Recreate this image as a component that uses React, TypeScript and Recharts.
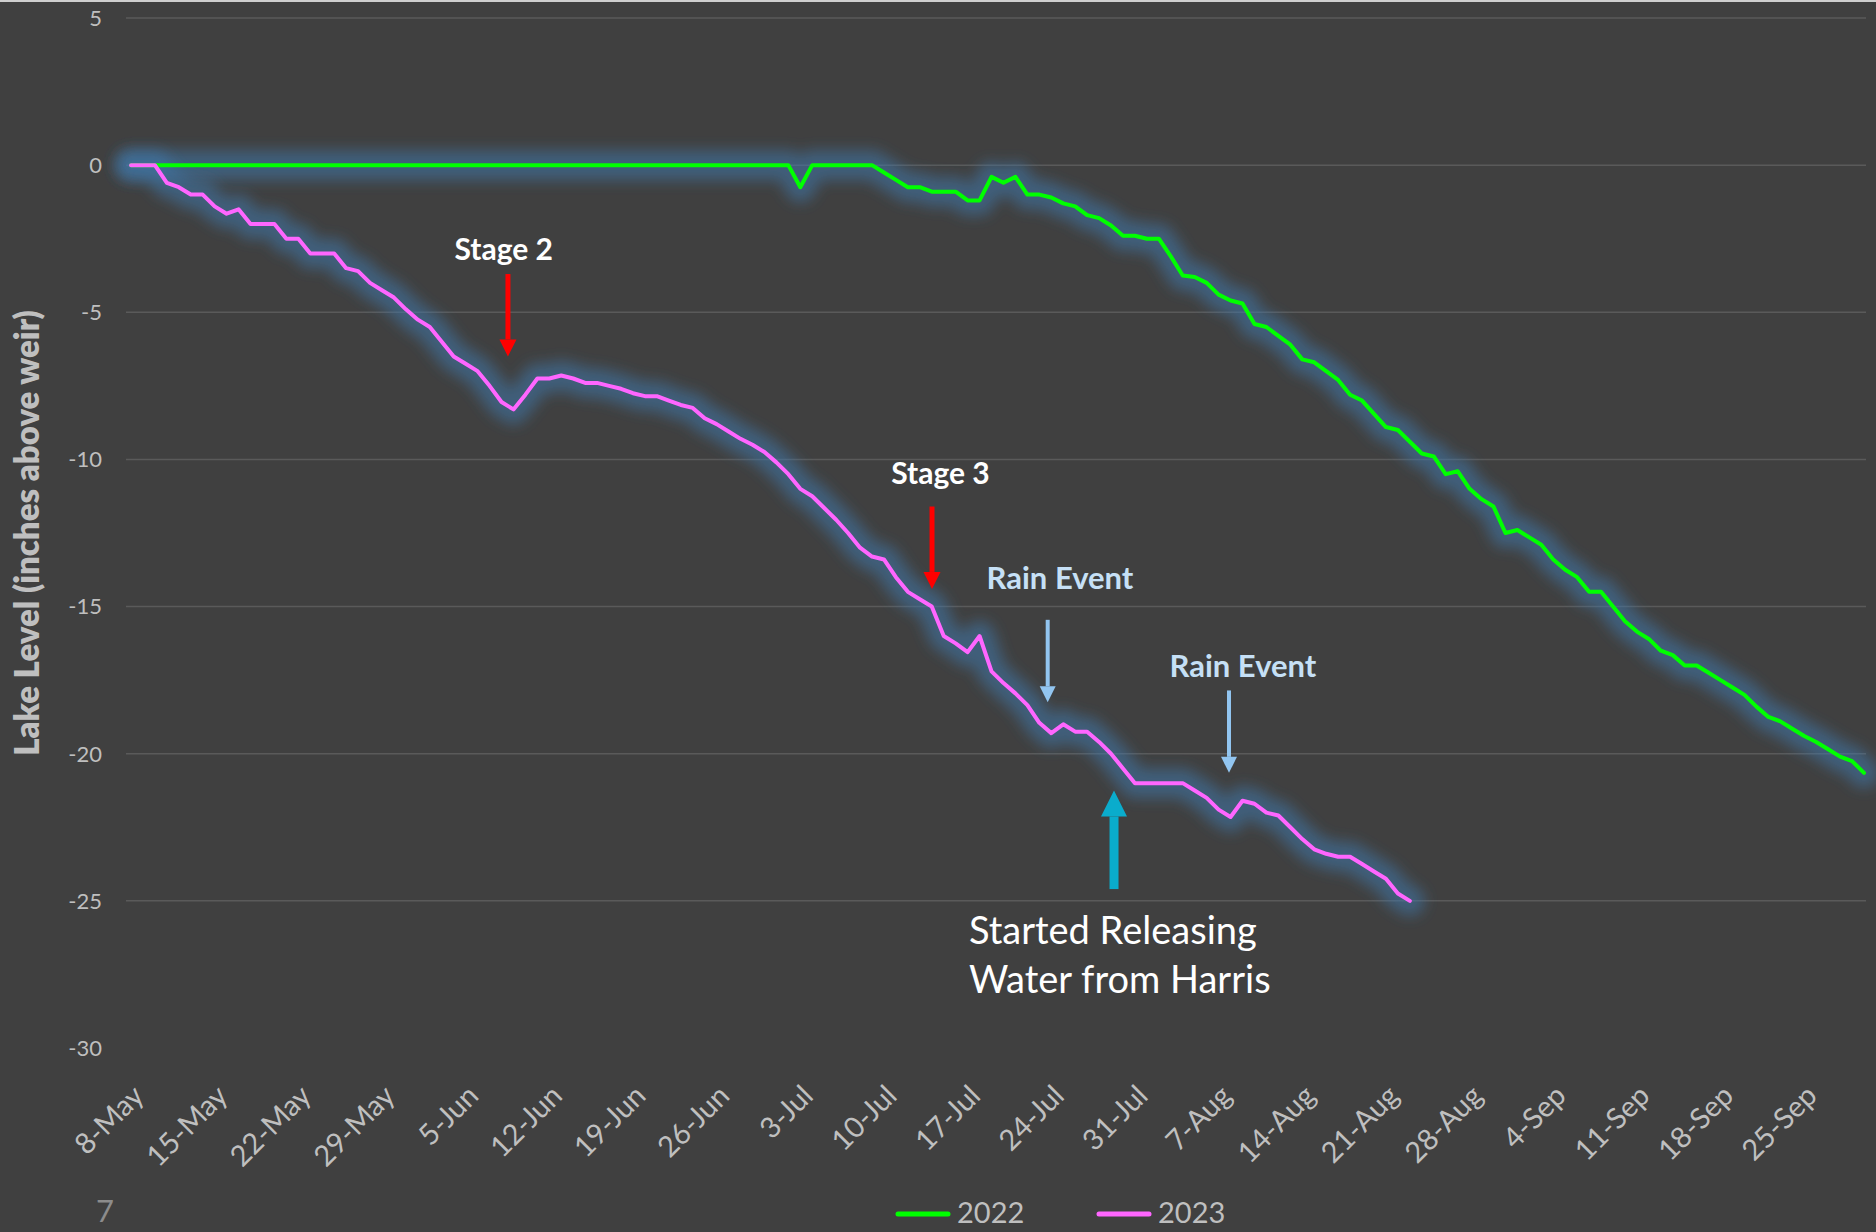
import React from "react";
import {
  LineChart,
  Line,
  XAxis,
  YAxis,
  CartesianGrid,
  ReferenceLine,
  ReferenceDot,
} from "recharts";

// daily lake level, inches above weir, starting 8-May
const level2022 = [
  0, 0, 0, 0, 0, 0, 0, 0, 0, 0,
  0, 0, 0, 0, 0, 0, 0, 0, 0, 0,
  0, 0, 0, 0, 0, 0, 0, 0, 0, 0,
  0, 0, 0, 0, 0, 0, 0, 0, 0, 0,
  0, 0, 0, 0, 0, 0, 0, 0, 0, 0,
  0, 0, 0, 0, 0, 0, -0.75, 0, 0, 0,
  0, 0, 0, -0.25, -0.5, -0.75, -0.75, -0.9, -0.9, -0.9,
  -1.2, -1.2, -0.4, -0.6, -0.4, -1.0, -1.0, -1.1, -1.3, -1.4,
  -1.7, -1.8, -2.05, -2.4, -2.4, -2.5, -2.5, -3.1, -3.75, -3.8,
  -4.0, -4.4, -4.6, -4.7, -5.4, -5.5, -5.8, -6.1, -6.6, -6.7,
  -7.0, -7.3, -7.8, -8.0, -8.45, -8.9, -9.0, -9.4, -9.8, -9.9,
  -10.5, -10.4, -11.0, -11.35, -11.6, -12.5, -12.4, -12.65, -12.9, -13.4,
  -13.75, -14.0, -14.5, -14.5, -15.0, -15.5, -15.85, -16.1, -16.5, -16.65,
  -17.0, -17.0, -17.25, -17.5, -17.75, -18.0, -18.4, -18.75, -18.9, -19.15,
  -19.4, -19.6, -19.85, -20.1, -20.25, -20.65,
];

const level2023 = [
  0, 0, 0, -0.6, -0.75, -1.0, -1.0, -1.4, -1.65, -1.5,
  -2.0, -2.0, -2.0, -2.5, -2.5, -3.0, -3.0, -3.0, -3.5, -3.6,
  -4.0, -4.25, -4.5, -4.9, -5.25, -5.5, -6.0, -6.5, -6.75, -7.0,
  -7.5, -8.05, -8.3, -7.8, -7.25, -7.25, -7.15, -7.25, -7.4, -7.4,
  -7.5, -7.6, -7.75, -7.85, -7.85, -8.0, -8.15, -8.25, -8.6, -8.8,
  -9.05, -9.3, -9.5, -9.75, -10.1, -10.5, -11.0, -11.25, -11.65, -12.05,
  -12.5, -13.0, -13.3, -13.4, -14.0, -14.5, -14.75, -15.0, -16.0, -16.25,
  -16.55, -16.0, -17.2, -17.6, -17.95, -18.35, -18.95, -19.3, -19.0, -19.25,
  -19.25, -19.6, -20.0, -20.5, -21.0, -21.0, -21.0, -21.0, -21.0, -21.25,
  -21.5, -21.9, -22.15, -21.6, -21.7, -22.0, -22.1, -22.5, -22.9, -23.25,
  -23.4, -23.5, -23.5, -23.75, -24.0, -24.25, -24.75, -25.0,
];

const MONTHS = ["Jan", "Feb", "Mar", "Apr", "May", "Jun", "Jul", "Aug", "Sep", "Oct", "Nov", "Dec"];
const MONTH_DAYS = [31, 28, 31, 30, 31, 30, 31, 31, 30, 31, 30, 31];

// "8-May", "9-May", ... one label per day
function buildDates(count: number) {
  const out: string[] = [];
  let m = 4;
  let d = 8;
  for (let i = 0; i < count; i++) {
    out.push(`${d}-${MONTHS[m]}`);
    d++;
    if (d > MONTH_DAYS[m]) {
      d = 1;
      m++;
    }
  }
  return out;
}

const dates = buildDates(level2022.length);
const xTicks = [0, 7, 14, 21, 28, 35, 42, 49, 56, 63, 70, 77, 84, 91, 98, 105, 112, 119, 126, 133, 140];
const yTicks = [5, 0, -5, -10, -15, -20, -25, -30];
const gridValues = [5, 0, -5, -10, -15, -20, -25];

const series = [
  { key: "y2022", name: "2022", color: "#00ff00" },
  { key: "y2023", name: "2023", color: "#ff66ff" },
];

// annotation arrows, in day index / inches
const arrows = [
  { day: 31.54, from: -3.7, to: -6.5, color: "#ff0000", shaft: 5, head: 17 },
  { day: 67.02, from: -11.6, to: -14.4, color: "#ff0000", shaft: 5, head: 17 },
  { day: 76.7, from: -15.45, to: -18.25, color: "#92c5f0", shaft: 4, head: 16 },
  { day: 91.87, from: -17.85, to: -20.65, color: "#92c5f0", shaft: 4, head: 16 },
  { day: 82.25, from: -24.6, to: -21.25, color: "#0aaccc", shaft: 9, head: 26 },
];

const notes = [
  { day: 31.19, y: -3.23, text: "Stage 2", color: "#ffffff", size: 30, weight: 700, anchor: "middle" },
  { day: 67.73, y: -10.82, text: "Stage 3", color: "#ffffff", size: 30, weight: 700, anchor: "middle" },
  { day: 77.73, y: -14.4, text: "Rain Event", color: "#c6e0f6", size: 31, weight: 700, anchor: "middle" },
  { day: 93.04, y: -17.39, text: "Rain Event", color: "#c6e0f6", size: 31, weight: 700, anchor: "middle" },
  { day: 70.11, y: -26.47, text: "Started Releasing", color: "#ffffff", size: 38, weight: 400, anchor: "start" },
  { day: 70.11, y: -28.13, text: "Water from Harris", color: "#ffffff", size: 38, weight: 400, anchor: "start" },
];

const rows = dates.map((date, i) => ({
  day: i,
  date,
  y2022: i < level2022.length ? level2022[i] : null,
  y2023: i < level2023.length ? level2023[i] : null,
}));

const FONT = "Lato, 'Open Sans', sans-serif";
const AXIS_GRAY = "#bfbfbf";

function Arrow(props: any) {
  const { x1, y1, x2, y2, color, shaft, head } = props;
  const len = Math.hypot(x2 - x1, y2 - y1) || 1;
  const ux = (x2 - x1) / len;
  const uy = (y2 - y1) / len;
  const bx = x2 - ux * head;
  const by = y2 - uy * head;
  const px = -uy * (head / 2);
  const py = ux * (head / 2);
  return (
    <g>
      <line x1={x1} y1={y1} x2={bx} y2={by} stroke={color} strokeWidth={shaft} />
      <polygon
        points={`${x2},${y2} ${bx + px},${by + py} ${bx - px},${by - py}`}
        fill={color}
      />
    </g>
  );
}

function YTitle(props: any) {
  const vb = props.viewBox || { x: 0, y: 18, width: 126, height: 1030 };
  const cx = vb.x + 39;
  const cy = vb.y + vb.height / 2;
  return (
    <text
      x={cx}
      y={cy}
      transform={`rotate(-90 ${cx} ${cy})`}
      textAnchor="middle"
      fill={AXIS_GRAY}
      fontSize={33}
      fontWeight={800}
      fontFamily={FONT}
    >
      Lake Level (inches above weir)
    </text>
  );
}

export default function App() {
  return (
    <div
      style={{
        position: "absolute",
        left: 0,
        top: 0,
        width: 1876,
        height: 1232,
        background: "#404040",
        overflow: "hidden",
        fontFamily: FONT,
      }}
    >
      <div style={{ position: "absolute", left: 0, top: 0, width: 1876, height: 2, background: "#cfcfcf" }} />
      <LineChart
        width={1876}
        height={1232}
        data={rows}
        margin={{ top: 18, right: 10, bottom: 0, left: 0 }}
      >
        <defs>
          <filter id="lineGlow" filterUnits="userSpaceOnUse" x="0" y="0" width="1876" height="1232">
            <feGaussianBlur stdDeviation="7" />
          </filter>
        </defs>
        <CartesianGrid
          vertical={false}
          stroke="#5a5a5a"
          strokeWidth={1.5}
          horizontalValues={gridValues}
        />
        <XAxis
          dataKey="day"
          type="number"
          domain={[0, level2022.length - 1]}
          ticks={xTicks}
          interval={0}
          tickFormatter={(i: number) => dates[i]}
          angle={-45}
          textAnchor="end"
          tick={{ fill: AXIS_GRAY, fontSize: 29, fontFamily: FONT }}
          tickSize={0}
          tickMargin={35}
          axisLine={false}
          tickLine={false}
          height={184}
          padding={{ left: 5, right: 2 }}
        />
        <YAxis
          type="number"
          domain={[-30, 5]}
          ticks={yTicks}
          interval={0}
          tick={{ fill: AXIS_GRAY, fontSize: 22, fontFamily: FONT }}
          tickSize={0}
          tickMargin={24}
          axisLine={false}
          tickLine={false}
          width={126}
          label={{ content: (p: any) => <YTitle {...p} /> }}
        />
        {series.map((s) => (
          <Line
            key={`glow-${s.key}`}
            dataKey={s.key}
            stroke="#3f78aa"
            strokeOpacity={0.55}
            strokeWidth={30}
            strokeLinejoin="round"
            strokeLinecap="round"
            filter="url(#lineGlow)"
            dot={false}
            activeDot={false}
            legendType="none"
            connectNulls={false}
            isAnimationActive={false}
          />
        ))}
        {series.map((s) => (
          <Line
            key={s.key}
            dataKey={s.key}
            name={s.name}
            stroke={s.color}
            strokeWidth={4}
            strokeLinejoin="round"
            strokeLinecap="round"
            dot={false}
            activeDot={false}
            isAnimationActive={false}
          />
        ))}
        {arrows.map((a, i) => (
          <ReferenceLine
            key={`arrow-${i}`}
            segment={[
              { x: a.day, y: a.from },
              { x: a.day, y: a.to },
            ]}
            shape={(p: any) => <Arrow {...p} color={a.color} shaft={a.shaft} head={a.head} />}
          />
        ))}
        {notes.map((n, i) => (
          <ReferenceDot
            key={`note-${i}`}
            x={n.day}
            y={n.y}
            shape={(p: any) => (
              <text
                x={p.cx}
                y={p.cy}
                textAnchor={n.anchor as any}
                fill={n.color}
                fontSize={n.size}
                fontWeight={n.weight}
                fontFamily={FONT}
              >
                {n.text}
              </text>
            )}
          />
        ))}
      </LineChart>
      <svg
        width={1876}
        height={1232}
        style={{ position: "absolute", left: 0, top: 0, pointerEvents: "none" }}
      >
        {series.map((s, i) => (
          <g key={s.key} transform={`translate(${895 + i * 201}, 0)`}>
            <line x1={3} y1={1214} x2={53} y2={1214} stroke={s.color} strokeWidth={5} strokeLinecap="round" />
            <text x={62} y={1223} fill={AXIS_GRAY} fontSize={29} fontFamily={FONT}>
              {s.name}
            </text>
          </g>
        ))}
        <text x={96} y={1222} fill="#8c8c8c" fontSize={31} fontFamily={FONT}>
          7
        </text>
      </svg>
    </div>
  );
}
